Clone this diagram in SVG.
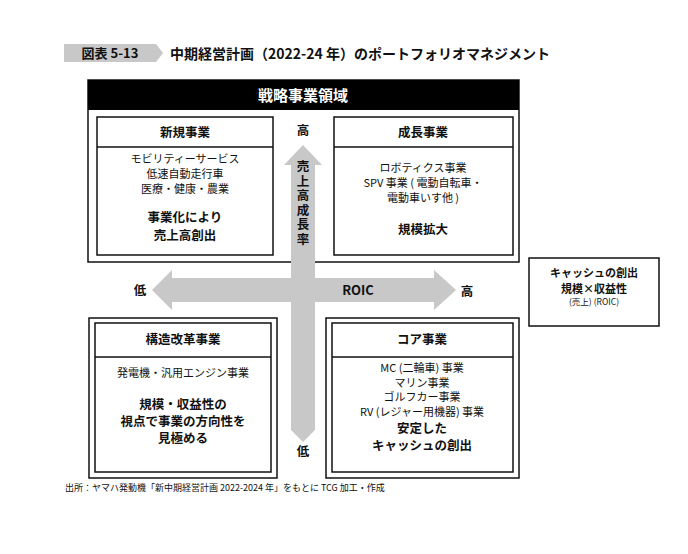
<svg xmlns="http://www.w3.org/2000/svg" width="688" height="554" viewBox="0 0 688 554">
<style>
text{font-family:"Noto Sans CJK JP","Liberation Sans",sans-serif;fill:#111;text-anchor:middle}
.b{font-weight:bold}
.box{fill:#fff;stroke:#111;stroke-width:1.5}
.ln{stroke:#111;stroke-width:1.5}
.t{font-size:11px}
.h{font-size:12.5px;font-weight:bold}
</style>
<rect width="688" height="554" fill="#fff"/>
<g id="title">
<polygon points="64,44 156,44 163,53 156,62 64,62" fill="#c8c8c8"/>
<text x="110" y="58" class="b" font-size="13">図表 5-13</text>
<text x="170" y="59" class="b" font-size="14" style="text-anchor:start">中期経営計画（2022-24 年）のポートフォリオマネジメント</text>
</g>
<g id="strategic">
<rect class="box" x="88" y="80" width="431" height="182"/>
<rect x="88" y="80" width="431" height="30" fill="#000"/>
<text x="303" y="101" class="b" font-size="15" style="fill:#fff">戦略事業領域</text>
</g>
<g id="connectors">
<polygon points="291,430 291,300 315,300 315,430 303,442" fill="#c8c8c8"/>
<polygon points="303,145 322,165 315,165 315,430 291,430 291,165 284,165" fill="#c8c8c8"/>
<polygon points="152,290 172,270 172,278 434,278 434,270 456,290 434,310 434,302 172,302 172,310" fill="#c8c8c8"/>
<text x="303" y="135" class="h">高</text>
<text x="303" y="456" class="h">低</text>
<text x="140" y="295" class="h">低</text>
<text x="467" y="296" class="h">高</text>
<text x="358" y="295" font-size="13" class="b">ROIC</text>
<text class="h" style="writing-mode:vertical-rl;text-anchor:start;letter-spacing:2px" x="303" y="160">売上高成長率</text>
</g>
<g id="new">
<rect class="box" x="97" y="117" width="176" height="138"/>
<line class="ln" x1="97" y1="147" x2="273" y2="147"/>
<text x="185" y="137" class="h">新規事業</text>
<text x="185" y="163" class="t">モビリティーサービス</text>
<text x="185" y="178" class="t">低速自動走行車</text>
<text x="185" y="193" class="t">医療・健康・農業</text>
<text x="185" y="222" class="h">事業化により</text>
<text x="185" y="240" class="h">売上高創出</text>
</g>
<g id="growth">
<rect class="box" x="334" y="117" width="179" height="138"/>
<line class="ln" x1="334" y1="147" x2="513" y2="147"/>
<text x="423" y="137" class="h">成長事業</text>
<text x="423" y="172" class="t">ロボティクス事業</text>
<text x="423" y="187" class="t">SPV 事業 ( 電動自転車・</text>
<text x="423" y="202" class="t">電動車いす他 )</text>
<text x="423" y="234" class="h">規模拡大</text>
</g>
<g id="restructure">
<rect class="box" x="89" y="318" width="188" height="160"/>
<rect class="box" x="95" y="323" width="176" height="149"/>
<line class="ln" x1="95" y1="357" x2="271" y2="357"/>
<text x="183" y="344" class="h">構造改革事業</text>
<text x="183" y="377" class="t">発電機・汎用エンジン事業</text>
<text x="183" y="409" class="h">規模・収益性の</text>
<text x="183" y="426" class="h">視点で事業の方向性を</text>
<text x="183" y="443" class="h">見極める</text>
</g>
<g id="core">
<rect class="box" x="326" y="318" width="193" height="160"/>
<rect class="box" x="332" y="323" width="181" height="149"/>
<line class="ln" x1="332" y1="357" x2="513" y2="357"/>
<text x="422" y="344" class="h">コア事業</text>
<text x="422" y="372" class="t">MC (二輪車) 事業</text>
<text x="422" y="387" class="t">マリン事業</text>
<text x="422" y="401" class="t">ゴルフカー事業</text>
<text x="422" y="416" class="t">RV (レジャー用機器) 事業</text>
<text x="422" y="433" class="h">安定した</text>
<text x="422" y="450" class="h">キャッシュの創出</text>
</g>
<g id="note">
<rect class="box" x="529" y="258" width="130" height="68" stroke-width="1.2"/>
<text x="594" y="277" font-size="11" class="b">キャッシュの創出</text>
<text x="594" y="293" font-size="11" class="b">規模×収益性</text>
<text x="594" y="305" font-size="8.5">(売上) (ROIC)</text>
</g>
<text x="65" y="491" font-size="9" style="text-anchor:start">出所：ヤマハ発動機「新中期経営計画 2022-2024 年」をもとに TCG 加工・作成</text>
</svg>
